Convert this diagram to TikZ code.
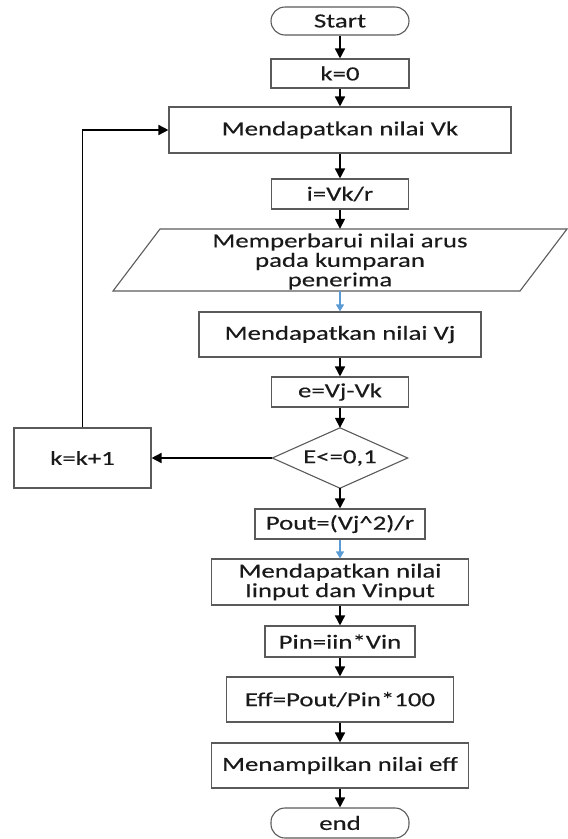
\documentclass[tikz,border=0pt]{standalone}
\usepackage{fontspec}
\setmainfont{Carlito}[FakeStretch=1.34,FakeBold=0.3]
\usetikzlibrary{arrows.meta}
\definecolor{edge}{HTML}{5A5A5A}
\definecolor{txt}{HTML}{1A1A1A}
\definecolor{blu}{HTML}{5B9BD5}
\begin{document}
\begin{tikzpicture}[x=1pt,y=-1pt,
  box/.style={draw=edge,line width=1.1pt,fill=white,inner sep=0pt,text=txt,align=center,
    font=\fontsize{20}{19.5}\selectfont},
  shapebox/.style={draw=none,inner sep=0pt,text=txt,align=center,font=\fontsize{20}{19.5}\selectfont},
  term/.style={box,rounded corners=14pt},
  arr/.style={line width=1.6pt,-{Triangle[length=10pt,width=10pt]}},
  barr/.style={line width=1.2pt,draw=blu,-{Triangle[length=7pt,width=8pt]},blu}]
\useasboundingbox (0,0) rectangle (568,839);
\node[term,minimum width=138pt,minimum height=28pt] (start) at (340,21) {Start};
\node[box,minimum width=138pt,minimum height=29pt] (k0) at (340,73.5) {k=0};
\node[box,minimum width=342pt,minimum height=46pt] (vk) at (340,130) {Mendapatkan nilai Vk};
\node[box,minimum width=137pt,minimum height=30pt] (ivk) at (340,194) {i=Vk/r};
\node[shapebox,minimum width=407pt,minimum height=62pt] (par) at (340,260) {};
\draw[draw=edge,line width=1.1pt] (113,291) -- (160,229) -- (567,229) -- (520,291) -- cycle;
\node[shapebox] at ([yshift=-1.5pt]par.center) {Memperbarui nilai arus\\pada kumparan\\penerima};
\node[box,minimum width=282pt,minimum height=45pt] (vj) at (340,334.5) {Mendapatkan nilai Vj};
\node[box,minimum width=137pt,minimum height=30pt] (e) at (340,392) {e=Vj-Vk};
\node[shapebox,minimum width=135pt,minimum height=60pt] (dia) at (340,458) {E<=0,1};
\draw[draw=edge,line width=1.1pt] (dia.west) -- (dia.north) -- (dia.east) -- (dia.south) -- cycle;
\node[box,minimum width=137pt,minimum height=60pt] (kk) at (82.5,458) {k=k+1};
\node[box,minimum width=170pt,minimum height=30pt] (pout) at (340,524) {Pout=(Vj\^{}2)/r};
\node[box,minimum width=257pt,minimum height=46pt] (iin) at (340,582) {Mendapatkan nilai\\Iinput dan Vinput};
\node[box,minimum width=150pt,minimum height=31pt] (pin) at (340,641.5) {Pin=iin*Vin};
\node[box,minimum width=227pt,minimum height=45pt] (eff) at (340,699.5) {Eff=Pout/Pin*100};
\node[box,minimum width=257pt,minimum height=45pt] (tampil) at (340,765.5) {Menampilkan nilai eff};
\node[term,minimum width=138pt,minimum height=30pt] (end) at (340,823) {end};
\draw[arr] (start) -- (k0);
\draw[arr] (k0) -- (vk);
\draw[arr] (vk) -- (ivk);
\draw[arr] (ivk) -- (par.north);
\draw[barr] (par.south) -- (vj);
\draw[arr] (vj) -- (e);
\draw[arr] (e) -- (dia.north);
\draw[arr] (dia.south) -- (pout);
\draw[arr] (dia.west) -- (kk);
\draw[arr] (kk.north) -- (kk.north |- vk.west) -- (vk.west);
\draw[barr] (pout) -- (iin);
\draw[arr] (iin) -- (pin);
\draw[arr] (pin) -- (eff);
\draw[arr] (eff) -- (tampil);
\draw[arr] (tampil) -- (end);
\end{tikzpicture}
\end{document}
